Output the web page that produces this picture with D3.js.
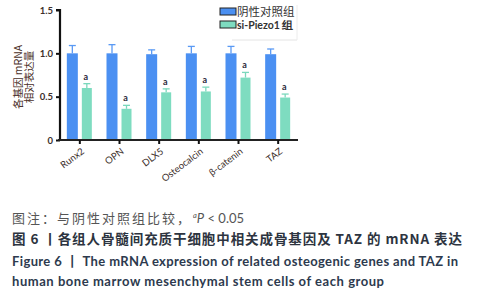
<!DOCTYPE html>
<html><head><meta charset="utf-8">
<script src="https://cdn.jsdelivr.net/npm/d3@7/dist/d3.min.js"></script>
<style>body{margin:0;background:#fff}svg{display:block}</style>
</head><body><svg id="c" width="496" height="300"></svg>
<script>
const categories = ["Runx2","OPN","DLX5","Osteocalcin","β-catenin","TAZ"];
const seriesNames = ["阴性对照组","si-Piezo1 组"];
const controlValues = [1.00,1.00,0.99,1.00,1.00,0.99];
const controlErrors = [0.09,0.10,0.05,0.08,0.08,0.06];
const piezoValues = [0.60,0.36,0.55,0.56,0.72,0.49];
const piezoErrors = [0.05,0.04,0.04,0.05,0.06,0.04];
const sigLabels = ["a","a","a","a","a","a"];
const yTicks = [0,0.5,1.0,1.5];
const yTickLabels = ["0","0.5","1.0","1.5"];
const captionLines = [
  "图注：与阴性对照组比较，",
  "图 6 丨各组人骨髓间充质干细胞中相关成骨基因及 TAZ 的 mRNA 表达",
  "Figure 6 丨 The mRNA expression of related osteogenic genes and TAZ in",
  "human bone marrow mesenchymal stem cells of each group"
];

const colors = ["#4b90f2","#7edcc0"];
const errColors = ["#5a9af4","#7ad8bc"];
const svg = d3.select("#c");
const x = d3.scaleBand().domain(categories).range([60,298]).paddingInner(0).paddingOuter(0);
const y = d3.scaleLinear().domain([0,1.5]).range([140,10]);
const cjk = "'Noto Sans CJK SC', sans-serif";
const lat = "Lato, 'Open Sans', sans-serif";
const dark = "#3b2e2a";

const data = categories.map((c,i)=>({c, v:[controlValues[i],piezoValues[i]], e:[controlErrors[i],piezoErrors[i]], s:sigLabels[i]}));
const offs = [-7.5, 7];
const bw = [11, 10];

const g = svg.append("g");
data.forEach(d=>{
  const cx = x(d.c) + x.bandwidth()/2;
  [0,1].forEach(k=>{
    const bx = cx + offs[k];
    const top = y(d.v[k]+d.e[k]);
    g.append("line").attr("x1",bx).attr("x2",bx).attr("y1",y(d.v[k])).attr("y2",top).attr("stroke",errColors[k]).attr("stroke-width",1.3);
    g.append("line").attr("x1",bx-3.5).attr("x2",bx+3.5).attr("y1",top).attr("y2",top).attr("stroke",errColors[k]).attr("stroke-width",1.3);
    g.append("rect").attr("x",bx-bw[k]/2).attr("width",bw[k]).attr("y",y(d.v[k])).attr("height",y(0)-y(d.v[k])).attr("fill",colors[k]);
  });
  const sx = cx + offs[1];
  g.append("text").attr("x",sx-1).attr("y",y(d.v[1]+d.e[1])-4).attr("text-anchor","middle")
   .attr("font-family",lat).attr("font-weight","bold").attr("font-size",9).attr("fill","#2a2a3a").text(d.s);
});

const yAxis = d3.axisLeft(y).tickValues(yTicks).tickFormat((d,i)=>yTickLabels[i]).tickSize(4).tickPadding(3);
const ya = svg.append("g").attr("transform","translate(60,0)").call(yAxis);
ya.select(".domain").attr("stroke","#111").attr("stroke-width",2.2).attr("d","M-4,10H0V140");
ya.selectAll(".tick line").attr("stroke","#111").attr("stroke-width",2);
ya.selectAll(".tick text").attr("font-family",lat).attr("font-weight","bold").attr("font-size",9.5).attr("fill",dark);

const xAxis = d3.axisBottom(x).tickSize(4).tickSizeOuter(0).tickPadding(4);
const xa = svg.append("g").attr("transform","translate(0,140)").call(xAxis);
xa.select(".domain").attr("stroke","#222").attr("stroke-width",2).attr("d","M58,0H298");
xa.selectAll(".tick line").attr("stroke","#111").attr("stroke-width",2);
xa.selectAll(".tick text").attr("font-family",lat).attr("font-size",9.5).attr("fill",dark)
  .attr("text-anchor","end").attr("transform","translate(3,10) rotate(-37)").attr("dy","0.35em").attr("y",0);

const yl = svg.append("g").attr("transform","translate(23,77) rotate(-90)");
yl.append("text").attr("x",0).attr("y",-1).attr("text-anchor","middle").attr("font-family",cjk).attr("font-size",10.5).attr("fill","#4a3028").text("各基因 mRNA");
yl.append("text").attr("x",0).attr("y",10).attr("text-anchor","middle").attr("font-family",cjk).attr("font-size",10.5).attr("fill","#4a3028").text("相对表达量");

const lg = svg.append("g");
lg.append("line").attr("x1",232).attr("x2",297).attr("y1",40).attr("y2",40).attr("stroke","#e4e4e4");
lg.append("line").attr("x1",297).attr("x2",297).attr("y1",5).attr("y2",40).attr("stroke","#ececec");
seriesNames.forEach((n,i)=>{
  const yy = 8 + i*13;
  lg.append("rect").attr("x",220).attr("y",yy).attr("width",16).attr("height",7).attr("fill",colors[i]).attr("stroke","#222").attr("stroke-width",1);
  lg.append("text").attr("x",237).attr("y",yy+4).attr("dy","0.35em").attr("font-family", i===0?cjk:lat).attr("font-weight", i===0?"normal":"bold").attr("font-size",i===0?11.5:10.5).attr("fill","#333").text(n);
});

const cap = svg.append("g");
cap.append("text").attr("x",12).attr("y",223).attr("font-family",cjk).attr("font-size",13).attr("fill","#555").attr("textLength",178).attr("lengthAdjust","spacing").text(captionLines[0]);
const l1 = cap.append("text").attr("x",193).attr("y",223).attr("font-family",lat).attr("font-size",13).attr("fill","#555");
l1.append("tspan").attr("font-size",7.5).attr("dy",-5).attr("font-style","italic").text("a");
l1.append("tspan").attr("font-style","italic").attr("dy",5).attr("font-size",13).text("P");
l1.append("tspan").attr("font-size",13).text(" < 0.05");
cap.append("text").attr("x",12).attr("y",244).attr("font-family",cjk).attr("font-weight","bold").attr("font-size",13.5).attr("fill","#2d3440").attr("textLength",450).attr("lengthAdjust","spacing").text(captionLines[1]);
cap.append("text").attr("x",12).attr("y",266).attr("font-family",lat).attr("font-weight","bold").attr("font-size",13).attr("fill","#2d3a4e").attr("textLength",446).text(captionLines[2]);
cap.append("text").attr("x",12).attr("y",286).attr("font-family",lat).attr("font-weight","bold").attr("font-size",13).attr("fill","#2d3a4e").attr("textLength",372).text(captionLines[3]);
</script></body></html>
